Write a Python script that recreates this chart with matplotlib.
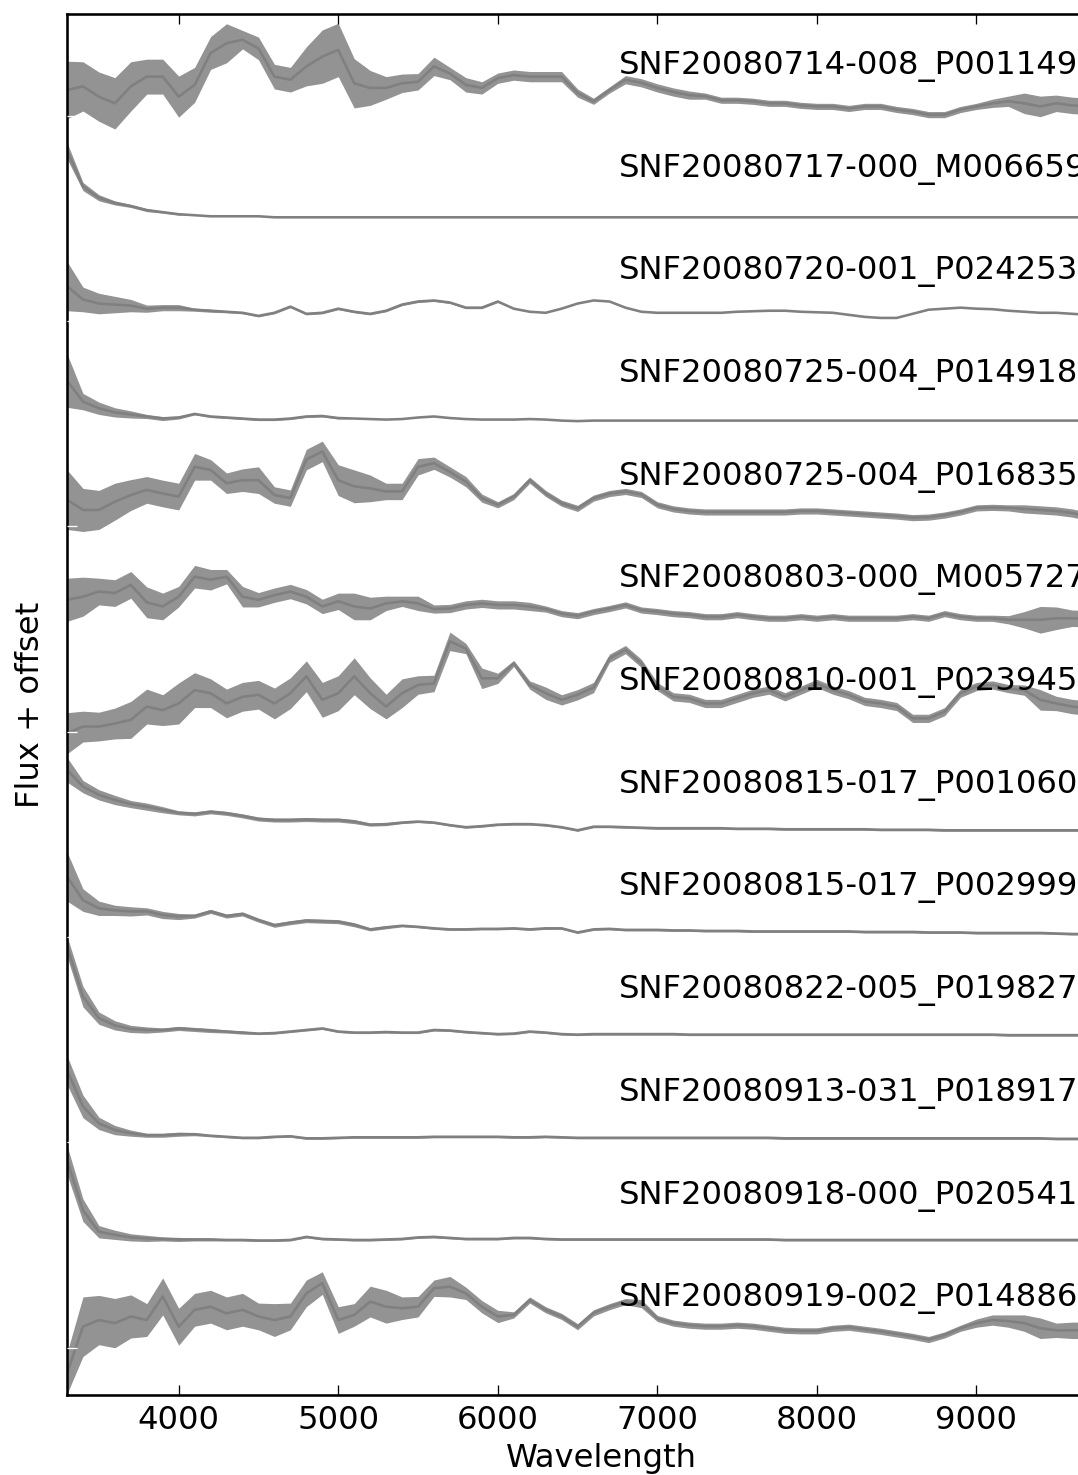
import numpy as np
import matplotlib
matplotlib.use("Agg")
import matplotlib.pyplot as plt

plt.style.use("classic")
plt.rcParams["font.family"] = "DejaVu Sans"
plt.rcParams["font.size"] = 12.5

# Sampling of the binned spectra (Angstrom)
WAVE = np.arange(3300, 9800, 100)

NAMES = [
    "SNF20080919-002_P014886",
    "SNF20080918-000_P020541",
    "SNF20080913-031_P018917",
    "SNF20080822-005_P019827",
    "SNF20080815-017_P002999",
    "SNF20080815-017_P001060",
    "SNF20080810-001_P023945",
    "SNF20080803-000_M005727",
    "SNF20080725-004_P016835",
    "SNF20080725-004_P014918",
    "SNF20080720-001_P024253",
    "SNF20080717-000_M006659",
    "SNF20080714-008_P001149",
]

# binned flux (normalised) and scatter half-width in each bin
flux_p014886 = [
    0.21, 0.665, 0.73, 0.70, 0.765, 0.73, 0.96, 0.665, 0.83, 0.86,
    0.795, 0.83, 0.765, 0.73, 0.765, 0.99, 1.09, 0.73, 0.78, 0.91,
    0.86, 0.845, 0.86, 1.04, 1.055, 0.99, 0.86, 0.765, 0.78, 0.925,
    0.83, 0.765, 0.665, 0.80, 0.86, 0.91, 0.89, 0.745, 0.70, 0.68,
    0.67, 0.67, 0.68, 0.67, 0.65, 0.63, 0.625, 0.625, 0.65, 0.66,
    0.64, 0.62, 0.595, 0.57, 0.54, 0.585, 0.65, 0.70, 0.73, 0.72,
    0.70, 0.65, 0.63, 0.63, 0.63]
noise_p014886 = [
    0.20, 0.29, 0.24, 0.24, 0.21, 0.16, 0.18, 0.18, 0.16, 0.16,
    0.16, 0.16, 0.13, 0.16, 0.13, 0.13, 0.11, 0.13, 0.11, 0.15,
    0.16, 0.11, 0.10, 0.08, 0.10, 0.06, 0.06, 0.06, 0.03, 0.03,
    0.03, 0.03, 0.03, 0.03, 0.03, 0.03, 0.04, 0.03, 0.03, 0.03,
    0.03, 0.03, 0.03, 0.03, 0.03, 0.03, 0.03, 0.03, 0.03, 0.03,
    0.03, 0.03, 0.03, 0.03, 0.03, 0.03, 0.03, 0.04, 0.05, 0.06,
    0.08, 0.10, 0.07, 0.08, 0.08]

flux_p020541 = [
    1.29, 0.80, 0.59, 0.56, 0.535, 0.525, 0.52, 0.515, 0.515, 0.515,
    0.51, 0.51, 0.505, 0.505, 0.51, 0.54, 0.52, 0.515, 0.51, 0.51,
    0.515, 0.52, 0.535, 0.54, 0.53, 0.52, 0.52, 0.52, 0.53, 0.53,
    0.52, 0.515, 0.515, 0.515, 0.515, 0.515, 0.515, 0.515, 0.515, 0.515,
    0.515, 0.515, 0.515, 0.515, 0.515, 0.51, 0.51, 0.51, 0.51, 0.51,
    0.51, 0.51, 0.51, 0.51, 0.51, 0.51, 0.51, 0.51, 0.51, 0.51,
    0.51, 0.51, 0.51, 0.51, 0.51]
noise_p020541 = [
    0.14, 0.11, 0.06, 0.045, 0.035, 0.03, 0.02, 0.02, 0.015, 0.015,
    0.01, 0.01, 0.01, 0.01, 0.01, 0.01, 0.01, 0.01, 0.01, 0.01,
    0.01, 0.01, 0.01, 0.01, 0.01, 0.01, 0.01, 0.01, 0.01, 0.01,
    0.01, 0.01, 0.01, 0.01, 0.01, 0.01, 0.01, 0.01, 0.01, 0.01,
    0.01, 0.01, 0.01, 0.01, 0.01, 0.01, 0.01, 0.01, 0.01, 0.01,
    0.01, 0.01, 0.01, 0.01, 0.01, 0.01, 0.01, 0.01, 0.01, 0.01,
    0.01, 0.01, 0.01, 0.01, 0.01]

flux_p018917 = [
    1.165, 0.81, 0.645, 0.58, 0.55, 0.53, 0.53, 0.54, 0.54, 0.525,
    0.515, 0.505, 0.505, 0.515, 0.52, 0.50, 0.50, 0.505, 0.51, 0.51,
    0.51, 0.51, 0.51, 0.515, 0.515, 0.515, 0.515, 0.515, 0.51, 0.51,
    0.515, 0.51, 0.505, 0.505, 0.505, 0.505, 0.505, 0.505, 0.505, 0.505,
    0.505, 0.505, 0.505, 0.505, 0.505, 0.50, 0.50, 0.50, 0.50, 0.50,
    0.50, 0.50, 0.50, 0.50, 0.50, 0.50, 0.50, 0.50, 0.50, 0.50,
    0.50, 0.50, 0.495, 0.495, 0.495]
noise_p018917 = [
    0.14, 0.11, 0.06, 0.045, 0.03, 0.02, 0.02, 0.02, 0.015, 0.01,
    0.01, 0.01, 0.01, 0.01, 0.01, 0.01, 0.01, 0.01, 0.01, 0.01,
    0.01, 0.01, 0.01, 0.01, 0.01, 0.01, 0.01, 0.01, 0.01, 0.01,
    0.01, 0.01, 0.01, 0.01, 0.01, 0.01, 0.01, 0.01, 0.01, 0.01,
    0.01, 0.01, 0.01, 0.01, 0.01, 0.01, 0.01, 0.01, 0.01, 0.01,
    0.01, 0.01, 0.01, 0.01, 0.01, 0.01, 0.01, 0.01, 0.01, 0.01,
    0.01, 0.01, 0.01, 0.01, 0.01]

flux_p019827 = [
    1.37, 0.88, 0.67, 0.60, 0.565, 0.555, 0.555, 0.57, 0.56, 0.55,
    0.54, 0.53, 0.52, 0.525, 0.54, 0.555, 0.57, 0.54, 0.53, 0.53,
    0.535, 0.53, 0.53, 0.555, 0.55, 0.535, 0.525, 0.515, 0.52, 0.54,
    0.53, 0.515, 0.51, 0.515, 0.515, 0.515, 0.515, 0.515, 0.515, 0.51,
    0.51, 0.51, 0.51, 0.51, 0.51, 0.51, 0.51, 0.51, 0.51, 0.51,
    0.51, 0.51, 0.51, 0.51, 0.51, 0.51, 0.51, 0.51, 0.51, 0.505,
    0.505, 0.505, 0.505, 0.505, 0.505]
noise_p019827 = [
    0.10, 0.10, 0.06, 0.045, 0.035, 0.03, 0.02, 0.02, 0.02, 0.02,
    0.015, 0.015, 0.01, 0.01, 0.01, 0.01, 0.01, 0.01, 0.01, 0.01,
    0.01, 0.01, 0.01, 0.01, 0.01, 0.01, 0.01, 0.01, 0.01, 0.01,
    0.01, 0.01, 0.01, 0.01, 0.01, 0.01, 0.01, 0.01, 0.01, 0.01,
    0.01, 0.01, 0.01, 0.01, 0.01, 0.01, 0.01, 0.01, 0.01, 0.01,
    0.01, 0.01, 0.01, 0.01, 0.01, 0.01, 0.01, 0.01, 0.01, 0.01,
    0.01, 0.01, 0.01, 0.01, 0.01]

flux_p002999 = [
    1.05, 0.82, 0.74, 0.72, 0.71, 0.71, 0.675, 0.66, 0.665, 0.71,
    0.665, 0.685, 0.625, 0.575, 0.60, 0.62, 0.615, 0.61, 0.58, 0.535,
    0.555, 0.57, 0.56, 0.545, 0.535, 0.535, 0.54, 0.54, 0.545, 0.535,
    0.545, 0.545, 0.505, 0.535, 0.54, 0.53, 0.53, 0.53, 0.525, 0.525,
    0.52, 0.52, 0.52, 0.515, 0.515, 0.515, 0.515, 0.515, 0.515, 0.515,
    0.51, 0.51, 0.51, 0.51, 0.505, 0.505, 0.505, 0.50, 0.50, 0.50,
    0.50, 0.50, 0.495, 0.49, 0.49]
noise_p002999 = [
    0.24, 0.11, 0.07, 0.05, 0.045, 0.035, 0.035, 0.03, 0.02, 0.02,
    0.02, 0.02, 0.02, 0.02, 0.02, 0.02, 0.02, 0.02, 0.02, 0.015,
    0.015, 0.01, 0.01, 0.01, 0.01, 0.01, 0.01, 0.01, 0.01, 0.01,
    0.01, 0.01, 0.01, 0.01, 0.01, 0.01, 0.01, 0.01, 0.01, 0.01,
    0.01, 0.01, 0.01, 0.01, 0.01, 0.01, 0.01, 0.01, 0.01, 0.01,
    0.01, 0.01, 0.01, 0.01, 0.01, 0.01, 0.01, 0.01, 0.01, 0.01,
    0.01, 0.01, 0.01, 0.01, 0.01]

flux_p001060 = [
    1.09, 0.925, 0.845, 0.795, 0.755, 0.73, 0.70, 0.67, 0.66, 0.68,
    0.665, 0.64, 0.61, 0.60, 0.60, 0.605, 0.60, 0.60, 0.585, 0.555,
    0.56, 0.575, 0.585, 0.575, 0.55, 0.53, 0.54, 0.555, 0.56, 0.56,
    0.55, 0.53, 0.50, 0.535, 0.535, 0.53, 0.525, 0.52, 0.52, 0.52,
    0.52, 0.52, 0.515, 0.515, 0.515, 0.51, 0.51, 0.51, 0.51, 0.51,
    0.51, 0.505, 0.505, 0.505, 0.505, 0.50, 0.50, 0.50, 0.50, 0.50,
    0.50, 0.50, 0.50, 0.50, 0.50]
noise_p001060 = [
    0.12, 0.06, 0.05, 0.045, 0.035, 0.035, 0.03, 0.02, 0.02, 0.02,
    0.02, 0.02, 0.02, 0.02, 0.02, 0.02, 0.02, 0.02, 0.02, 0.015,
    0.015, 0.01, 0.01, 0.01, 0.01, 0.01, 0.01, 0.01, 0.01, 0.01,
    0.01, 0.01, 0.01, 0.01, 0.01, 0.01, 0.01, 0.01, 0.01, 0.01,
    0.01, 0.01, 0.01, 0.01, 0.01, 0.01, 0.01, 0.01, 0.01, 0.01,
    0.01, 0.01, 0.01, 0.01, 0.01, 0.01, 0.01, 0.01, 0.01, 0.01,
    0.01, 0.01, 0.01, 0.01, 0.01]

flux_p023945 = [
    0.445, 0.51, 0.51, 0.54, 0.575, 0.705, 0.67, 0.735, 0.865, 0.835,
    0.735, 0.80, 0.82, 0.735, 0.835, 1.00, 0.77, 0.835, 1.00, 0.835,
    0.705, 0.835, 0.915, 0.93, 1.34, 1.27, 0.98, 0.98, 1.125, 0.915,
    0.835, 0.77, 0.82, 0.89, 1.175, 1.26, 1.125, 0.90, 0.80, 0.785,
    0.735, 0.735, 0.785, 0.835, 0.865, 0.80, 0.865, 0.93, 0.865, 0.82,
    0.755, 0.735, 0.705, 0.59, 0.59, 0.655, 0.835, 0.90, 0.915, 0.88,
    0.865, 0.77, 0.735, 0.705, 0.69]
noise_p023945 = [
    0.20, 0.15, 0.14, 0.15, 0.18, 0.17, 0.15, 0.20, 0.17, 0.14,
    0.14, 0.14, 0.14, 0.15, 0.15, 0.15, 0.17, 0.17, 0.18, 0.15,
    0.12, 0.14, 0.09, 0.08, 0.09, 0.05, 0.10, 0.05, 0.03, 0.04,
    0.06, 0.05, 0.05, 0.05, 0.04, 0.04, 0.04, 0.04, 0.04, 0.04,
    0.04, 0.04, 0.04, 0.04, 0.04, 0.04, 0.04, 0.04, 0.04, 0.04,
    0.04, 0.04, 0.04, 0.04, 0.04, 0.04, 0.04, 0.04, 0.04, 0.04,
    0.05, 0.10, 0.07, 0.07, 0.07]

flux_m005727 = [
    0.745, 0.775, 0.825, 0.81, 0.89, 0.72, 0.68, 0.775, 0.97, 0.94,
    0.97, 0.775, 0.745, 0.79, 0.825, 0.775, 0.68, 0.73, 0.68, 0.66,
    0.71, 0.73, 0.71, 0.655, 0.66, 0.695, 0.71, 0.695, 0.695, 0.68,
    0.655, 0.61, 0.59, 0.63, 0.66, 0.695, 0.645, 0.63, 0.61, 0.60,
    0.58, 0.58, 0.60, 0.58, 0.565, 0.565, 0.58, 0.565, 0.58, 0.565,
    0.565, 0.565, 0.565, 0.58, 0.565, 0.61, 0.58, 0.565, 0.565, 0.55,
    0.55, 0.55, 0.565, 0.565, 0.56]
noise_m005727 = [
    0.21, 0.19, 0.13, 0.13, 0.13, 0.15, 0.13, 0.10, 0.11, 0.10,
    0.07, 0.10, 0.07, 0.07, 0.07, 0.07, 0.07, 0.08, 0.13, 0.11,
    0.07, 0.05, 0.07, 0.04, 0.04, 0.04, 0.04, 0.04, 0.04, 0.04,
    0.03, 0.03, 0.03, 0.03, 0.03, 0.03, 0.03, 0.03, 0.03, 0.03,
    0.03, 0.03, 0.03, 0.03, 0.03, 0.03, 0.03, 0.03, 0.03, 0.03,
    0.03, 0.03, 0.03, 0.03, 0.03, 0.03, 0.03, 0.03, 0.03, 0.04,
    0.08, 0.13, 0.11, 0.08, 0.08]

flux_p016835 = [
    0.72, 0.62, 0.62, 0.70, 0.765, 0.815, 0.78, 0.75, 1.04, 1.01,
    0.88, 0.91, 0.91, 0.765, 0.735, 1.11, 1.19, 0.91, 0.85, 0.83,
    0.80, 0.80, 1.04, 1.075, 0.99, 0.895, 0.735, 0.67, 0.75, 0.91,
    0.78, 0.685, 0.635, 0.735, 0.78, 0.80, 0.77, 0.67, 0.63, 0.61,
    0.60, 0.60, 0.60, 0.60, 0.60, 0.60, 0.61, 0.61, 0.60, 0.59,
    0.58, 0.57, 0.56, 0.545, 0.55, 0.57, 0.60, 0.64, 0.645, 0.64,
    0.63, 0.62, 0.61, 0.59, 0.555]
noise_p016835 = [
    0.29, 0.21, 0.19, 0.18, 0.15, 0.13, 0.13, 0.13, 0.13, 0.10,
    0.10, 0.11, 0.13, 0.08, 0.08, 0.10, 0.10, 0.15, 0.16, 0.13,
    0.08, 0.08, 0.08, 0.06, 0.05, 0.05, 0.04, 0.03, 0.03, 0.03,
    0.03, 0.03, 0.03, 0.03, 0.03, 0.03, 0.03, 0.03, 0.03, 0.03,
    0.03, 0.03, 0.03, 0.03, 0.03, 0.03, 0.03, 0.03, 0.03, 0.03,
    0.03, 0.03, 0.03, 0.03, 0.03, 0.03, 0.03, 0.03, 0.03, 0.03,
    0.04, 0.04, 0.04, 0.04, 0.04]

flux_p014918 = [
    0.88, 0.675, 0.61, 0.57, 0.55, 0.53, 0.51, 0.52, 0.555, 0.53,
    0.52, 0.51, 0.50, 0.50, 0.51, 0.53, 0.535, 0.515, 0.51, 0.505,
    0.50, 0.505, 0.52, 0.53, 0.515, 0.505, 0.50, 0.50, 0.50, 0.505,
    0.50, 0.49, 0.485, 0.49, 0.49, 0.49, 0.49, 0.49, 0.49, 0.49,
    0.49, 0.49, 0.49, 0.49, 0.49, 0.49, 0.49, 0.49, 0.49, 0.49,
    0.49, 0.49, 0.49, 0.49, 0.49, 0.49, 0.49, 0.49, 0.49, 0.49,
    0.49, 0.49, 0.49, 0.49, 0.49]
noise_p014918 = [
    0.26, 0.08, 0.06, 0.045, 0.035, 0.02, 0.02, 0.015, 0.01, 0.01,
    0.01, 0.01, 0.01, 0.01, 0.01, 0.01, 0.01, 0.01, 0.0, 0.0,
    0.0, 0.0, 0.0, 0.0, 0.0, 0.0, 0.0, 0.0, 0.0, 0.0,
    0.0, 0.0, 0.0, 0.0, 0.0, 0.0, 0.0, 0.0, 0.0, 0.0,
    0.0, 0.0, 0.0, 0.0, 0.0, 0.0, 0.0, 0.0, 0.0, 0.0,
    0.0, 0.0, 0.0, 0.0, 0.0, 0.0, 0.0, 0.0, 0.0, 0.0,
    0.0, 0.0, 0.0, 0.0, 0.0]

flux_p024253 = [
    0.80, 0.67, 0.63, 0.62, 0.61, 0.58, 0.59, 0.59, 0.57, 0.56,
    0.55, 0.54, 0.51, 0.54, 0.60, 0.53, 0.54, 0.58, 0.55, 0.53,
    0.56, 0.62, 0.65, 0.66, 0.64, 0.59, 0.59, 0.65, 0.58, 0.55,
    0.54, 0.58, 0.63, 0.66, 0.65, 0.59, 0.55, 0.54, 0.54, 0.54,
    0.54, 0.54, 0.55, 0.555, 0.56, 0.56, 0.55, 0.545, 0.54, 0.52,
    0.50, 0.49, 0.49, 0.53, 0.57, 0.58, 0.59, 0.58, 0.575, 0.56,
    0.55, 0.54, 0.54, 0.53, 0.52]
noise_p024253 = [
    0.24, 0.12, 0.10, 0.08, 0.06, 0.035, 0.03, 0.03, 0.015, 0.015,
    0.01, 0.01, 0.01, 0.01, 0.01, 0.01, 0.01, 0.01, 0.01, 0.01,
    0.01, 0.01, 0.01, 0.01, 0.01, 0.01, 0.01, 0.01, 0.0, 0.0,
    0.0, 0.0, 0.0, 0.0, 0.0, 0.0, 0.0, 0.0, 0.0, 0.0,
    0.0, 0.0, 0.0, 0.0, 0.0, 0.0, 0.0, 0.0, 0.0, 0.0,
    0.0, 0.0, 0.0, 0.0, 0.0, 0.0, 0.0, 0.0, 0.0, 0.0,
    0.0, 0.0, 0.0, 0.0, 0.0]

flux_m006659 = [
    1.12, 0.77, 0.66, 0.61, 0.58, 0.54, 0.52, 0.50, 0.49, 0.48,
    0.48, 0.48, 0.48, 0.47, 0.47, 0.47, 0.47, 0.47, 0.47, 0.47,
    0.47, 0.47, 0.47, 0.47, 0.47, 0.47, 0.47, 0.47, 0.47, 0.47,
    0.47, 0.47, 0.47, 0.47, 0.47, 0.47, 0.47, 0.47, 0.47, 0.47,
    0.47, 0.47, 0.47, 0.47, 0.47, 0.47, 0.47, 0.47, 0.47, 0.47,
    0.47, 0.47, 0.47, 0.47, 0.47, 0.47, 0.47, 0.47, 0.47, 0.47,
    0.47, 0.47, 0.47, 0.47, 0.47]
noise_m006659 = [
    0.08, 0.04, 0.03, 0.02, 0.015, 0.015, 0.01, 0.01, 0.0, 0.0,
    0.0, 0.0, 0.0, 0.0, 0.0, 0.0, 0.0, 0.0, 0.0, 0.0,
    0.0, 0.0, 0.0, 0.0, 0.0, 0.0, 0.0, 0.0, 0.0, 0.0,
    0.0, 0.0, 0.0, 0.0, 0.0, 0.0, 0.0, 0.0, 0.0, 0.0,
    0.0, 0.0, 0.0, 0.0, 0.0, 0.0, 0.0, 0.0, 0.0, 0.0,
    0.0, 0.0, 0.0, 0.0, 0.0, 0.0, 0.0, 0.0, 0.0, 0.0,
    0.0, 0.0, 0.0, 0.0, 0.0]

flux_p001149 = [
    0.71, 0.745, 0.645, 0.58, 0.745, 0.84, 0.84, 0.645, 0.76, 1.07,
    1.165, 1.20, 1.115, 0.84, 0.81, 0.94, 1.035, 1.10, 0.775, 0.73,
    0.73, 0.775, 0.79, 0.94, 0.87, 0.76, 0.73, 0.825, 0.855, 0.84,
    0.84, 0.84, 0.68, 0.60, 0.71, 0.81, 0.78, 0.73, 0.69, 0.66,
    0.65, 0.61, 0.61, 0.60, 0.58, 0.58, 0.56, 0.55, 0.55, 0.53,
    0.55, 0.55, 0.52, 0.50, 0.47, 0.47, 0.52, 0.55, 0.58, 0.60,
    0.58, 0.55, 0.58, 0.56, 0.55]
noise_p001149 = [
    0.28, 0.24, 0.24, 0.25, 0.24, 0.17, 0.17, 0.20, 0.17, 0.16,
    0.19, 0.09, 0.11, 0.12, 0.12, 0.19, 0.26, 0.26, 0.24, 0.17,
    0.11, 0.09, 0.08, 0.09, 0.06, 0.07, 0.06, 0.05, 0.05, 0.05,
    0.05, 0.05, 0.04, 0.03, 0.03, 0.04, 0.04, 0.04, 0.04, 0.04,
    0.03, 0.03, 0.03, 0.03, 0.03, 0.03, 0.03, 0.03, 0.03, 0.03,
    0.03, 0.03, 0.03, 0.03, 0.03, 0.03, 0.03, 0.03, 0.04, 0.05,
    0.10, 0.10, 0.08, 0.08, 0.08]

FLUXES = [flux_p014886, flux_p020541, flux_p018917, flux_p019827,
          flux_p002999, flux_p001060, flux_p023945, flux_m005727,
          flux_p016835, flux_p014918, flux_p024253, flux_m006659,
          flux_p001149]
NOISES = [noise_p014886, noise_p020541, noise_p018917, noise_p019827,
          noise_p002999, noise_p001060, noise_p023945, noise_m005727,
          noise_p016835, noise_p014918, noise_p024253, noise_m006659,
          noise_p001149]

LINE_COLOR = "gray"
LABEL_X = 6760.0
LABEL_DY = 0.865

W, H, DPI = 1078, 1475, 186
fig = plt.figure(figsize=(W / DPI, H / DPI), dpi=DPI, facecolor="white")
ax = fig.add_axes([67 / W, 80 / H, 1069 / W, 1381 / H])
ax.set_facecolor("white")

for off, (name, flux, noise) in enumerate(zip(NAMES, FLUXES, NOISES)):
    flux = np.asarray(flux) + off
    noise = np.asarray(noise)
    ax.fill_between(WAVE, flux - noise, flux + noise, color=LINE_COLOR,
                    lw=0, alpha=0.85)
    ax.plot(WAVE, flux, color=LINE_COLOR, lw=1.0)
    ax.text(LABEL_X, off + LABEL_DY, name, va="baseline", ha="left")

ax.set_xlim(3300, 10000)
ax.set_ylim(0.0, 13.45)
ax.set_xticks([4000, 5000, 6000, 7000, 8000, 9000])
ax.set_yticks(np.arange(0.46, 13.0, 2.0))
ax.tick_params(axis="y", colors="white", labelleft=False, labelright=False)
ax.set_xlabel("Wavelength", labelpad=2.5)
ax.set_ylabel("Flux + offset", labelpad=8.0)

fig.savefig("out.png", dpi=DPI, facecolor="white")
